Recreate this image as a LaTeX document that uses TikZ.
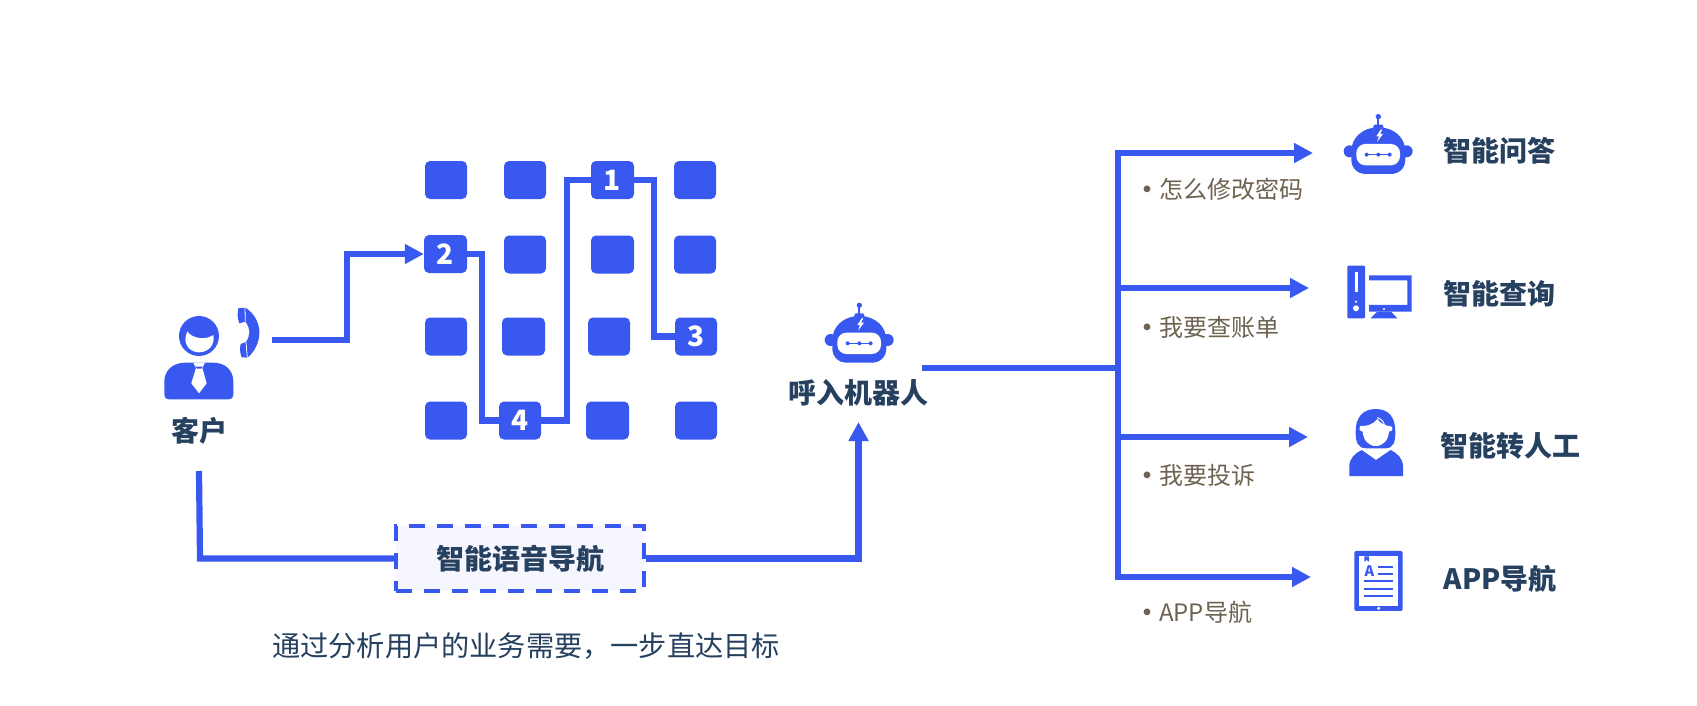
\documentclass[tikz,border=0pt]{standalone}
\usepackage{fontspec}
\setmainfont{Noto Sans CJK SC}
\usetikzlibrary{arrows.meta}

\definecolor{flowblue}{HTML}{3858EF}
\definecolor{navy}{HTML}{26405F}
\definecolor{taupe}{HTML}{6E6250}
\definecolor{boxtint}{HTML}{F5F6FE}

\tikzset{
  keypad/.style={fill=flowblue,rounded corners=5pt,minimum width=42pt,minimum height=38pt,inner sep=0pt,
    text=white,font=\fontsize{28pt}{32pt}\selectfont\bfseries},
  flow/.style={draw=flowblue,line width=6.2pt},
  flowtip/.style={flow,-{Triangle[length=19pt,width=19pt]}},
  heading/.style={text=navy,inner sep=0pt,font=\fontsize{28pt}{34pt}\selectfont\bfseries},
  example/.style={text=taupe,inner sep=0pt,anchor=west,font=\fontsize{24pt}{30pt}\selectfont},
  icon/.style={fill=flowblue},
  cutout/.style={fill=white}
}

\newcommand{\robothead}{
  \fill[icon] (178,46) circle (8);
  \fill[icon] (175,50) rectangle (181,72);
  \fill[icon,rounded corners=2pt] (163,70) rectangle (193,84);
  \fill[icon] (92,150) circle (18);
  \fill[icon] (263,150) circle (18);
  \fill[icon] (178,78) .. controls (130,78) and (97,110) .. (97,150) -- (97,175)
    .. controls (97,200) and (115,218) .. (140,218) -- (216,218)
    .. controls (241,218) and (259,200) .. (259,175) -- (259,150)
    .. controls (259,110) and (226,78) .. (178,78);
  \fill[cutout,rounded corners=9pt] (112,128) rectangle (243,192);
  \draw[flowblue,line width=1.5pt] (143,160) -- (212,160);
  \fill[icon] (143,160) circle (6);
  \fill[icon] (178,160) circle (6);
  \fill[icon] (212,160) circle (6);
  \fill[cutout] (185,85) -- (172,105) -- (180,105) -- (174,122) -- (192,98) -- (183,98) -- (190,85) -- cycle;
}

\begin{document}
\begin{tikzpicture}[x=1pt,y=-1pt]
  \useasboundingbox[fill=white] (0,0) rectangle (1697,705);

  % keypad
  \node[keypad] (k11) at (446,180) {};
  \node[keypad] (k12) at (525,180) {};
  \node[keypad,minimum width=43pt] (k13) at (612.5,180) {1};
  \node[keypad] (k14) at (695,180) {};
  \node[keypad,minimum width=43pt] (k21) at (445.5,254) {2};
  \node[keypad] (k22) at (525,254.5) {};
  \node[keypad,minimum width=43pt] (k23) at (612.5,254.5) {};
  \node[keypad] (k24) at (695,254.5) {};
  \node[keypad] (k31) at (446,336.5) {};
  \node[keypad,minimum width=43pt] (k32) at (523.5,336.5) {};
  \node[keypad] (k33) at (609,336.5) {};
  \node[keypad] (k34) at (696,336.5) {3};
  \node[keypad] (k41) at (446,420.5) {};
  \node[keypad] (k42) at (520,420.5) {4};
  \node[keypad,minimum width=43pt] (k43) at (607.5,420.5) {};
  \node[keypad] (k44) at (696,420.5) {};

  \coordinate (jog1) at (482,300);
  \coordinate (jog2) at (567,300);
  \coordinate (jog3) at (654,300);
  \draw[flow] (k21.east) -| (jog1) |- (k42.west);
  \draw[flow] (k42.east) -| (jog2) |- (k13.west);
  \draw[flow] (k13.east) -| (jog3) |- (k34.west);

  % customer
  \begin{scope}[shift={(130,270)},scale=.3333]
    \fill[icon] (207,198) circle (60);
    \fill[cutout] (172,184) .. controls (185,205) and (225,212) .. (250,195)
      .. controls (256,225) and (235,247) .. (207,247)
      .. controls (178,247) and (155,220) .. (172,184);
    \fill[icon] (103,372) -- (103,335) .. controls (103,300) and (130,278) .. (165,278) -- (250,278)
      .. controls (285,278) and (310,300) .. (310,335) -- (310,372)
      .. controls (310,382) and (305,388) .. (295,388) -- (118,388)
      .. controls (108,388) and (103,382) .. (103,372);
    \fill[cutout] (190,278) -- (225,278) -- (217,294) -- (230,340) -- (207,370) -- (184,340) -- (198,294) -- cycle;
    \fill[icon] (196,290) -- (218,290) -- (214,296) -- (201,296) -- cycle;
    % handset
    \fill[icon] (346,113) .. controls (375,130) and (390,165) .. (388,190)
      .. controls (388,220) and (370,250) .. (352,263) -- (335,262)
      .. controls (330,250) and (329,235) .. (332,222) -- (348,216)
      .. controls (362,195) and (362,175) .. (346,155) -- (328,160)
      .. controls (322,145) and (322,130) .. (325,115) -- cycle;
    \draw[white,line width=.8pt] (345,113) -- (346,155);
    \draw[white,line width=.8pt] (348,216) -- (352,263);
  \end{scope}
  \node[heading] (customer) at (199,431) {客户};
  \coordinate (callout) at (272,340);
  \coordinate (calljog) at (347,300);
  \draw[flowtip] (callout) -| (calljog) |- (k21.west);

  % voice navigation
  \node[heading,draw=flowblue,fill=boxtint,line width=4.5pt,dash pattern=on 16pt off 12pt,
    minimum width=248pt,minimum height=65pt] (navbox) at (520,558.5) {\textcolor{navy}{智能语音导航}};
  \node[text=navy,inner sep=0pt,font=\fontsize{28.2pt}{34pt}\selectfont] (navnote) at (526,646) {通过分析用户的业务需要，一步直达目标};
  \coordinate (custout) at (199,471);
  \coordinate (custbend) at (200,558.5);
  \coordinate (robotin) at (858.5,422);
  \draw[flow] (custout) -- (custbend) -- (navbox.west);
  \draw[flowtip] (navbox.east) -| (robotin);

  % inbound robot
  \begin{scope}[shift={(800,290)},scale=.3333]
    \robothead
  \end{scope}
  \node[heading] (inbound) at (858,393) {呼入机器人};

  % branches
  \coordinate (robotout) at (922,368);
  \coordinate (hub) at (1118,368);
  \coordinate (tip1) at (1313,153);
  \coordinate (tip2) at (1309,288);
  \coordinate (tip3) at (1308,437);
  \coordinate (tip4) at (1311,577);
  \draw[flow] (robotout) -- (hub);
  \draw[flowtip] (hub) |- (tip1);
  \draw[flowtip] (hub) |- (tip2);
  \draw[flowtip] (hub) |- (tip3);
  \draw[flowtip] (hub) |- (tip4);

  \node[example] (ex1) at (1135,189) {{\bfseries •}怎么修改密码};
  \node[example] (ex2) at (1135,327) {{\bfseries •}我要查账单};
  \node[example] (ex3) at (1135,475) {{\bfseries •}我要投诉};
  \node[example] (ex4) at (1135,612) {{\bfseries •}APP导航};

  % answer robot
  \begin{scope}[shift={(1319,101.3)},scale=.3333]
    \robothead
  \end{scope}
  \node[heading] (answer) at (1499,151) {智能问答};

  % computer
  \begin{scope}[shift={(1320,100)},scale=.3333]
    \fill[icon,rounded corners=1pt] (82,497) rectangle (135,655);
    \fill[cutout] (105,515) rectangle (113,575);
    \fill[cutout] (108,605) circle (3.5);
    \fill[cutout] (108,625) circle (9);
    \fill[icon] (147,526) -- (275,526) -- (275,635) -- (147,635) -- (147,615) -- (262,615) -- (262,541) -- (147,541) -- cycle;
    \fill[cutout] (192,627) circle (3.5);
    \fill[icon] (172,635) -- (213,635) -- (232,655) -- (152,655) -- cycle;
  \end{scope}
  \node[heading] (query) at (1499,294) {智能查询};

  % agent
  \begin{scope}[shift={(1320,395)},scale=.3333]
    \fill[icon] (107,110) .. controls (107,65) and (130,42) .. (167,42)
      .. controls (205,42) and (226,65) .. (226,110)
      .. controls (226,140) and (222,160) .. (195,160) -- (140,160)
      .. controls (112,160) and (107,140) .. (107,110);
    \fill[cutout] (120,93) .. controls (140,95) and (160,88) .. (172,72)
      .. controls (180,85) and (195,92) .. (216,95)
      .. controls (220,100) and (218,108) .. (207,110)
      .. controls (205,135) and (190,153) .. (167,153)
      .. controls (145,153) and (130,135) .. (128,110)
      .. controls (118,108) and (115,98) .. (120,93);
    \draw[white,line width=1pt] (172,68) .. controls (185,72) and (192,82) .. (194,92);
    \fill[icon] (88,243) -- (88,215) .. controls (88,190) and (105,175) .. (125,165)
      -- (168,195) -- (212,165) .. controls (232,175) and (249,190) .. (249,215) -- (249,243) -- cycle;
  \end{scope}
  \node[heading] (agent) at (1510,446) {智能转人工};

  % app guide
  \begin{scope}[shift={(1320,395)},scale=.3333]
    \fill[icon,rounded corners=2pt] (103,468) rectangle (248,648);
    \fill[cutout] (118,484) rectangle (234,632);
    \fill[cutout] (176,640) circle (5);
    \fill[icon] (133,484) -- (147,484) -- (147,500) -- (140,495) -- (133,500) -- cycle;
    \draw[flowblue,line width=1.7pt] (175,515) -- (218,515);
    \draw[flowblue,line width=1.7pt] (175,537) -- (218,537);
    \draw[flowblue,line width=1.7pt] (133,559) -- (218,559);
    \draw[flowblue,line width=1.7pt] (133,581) -- (218,581);
    \draw[flowblue,line width=1.7pt] (133,604) -- (218,604);
  \end{scope}
  \node[text=flowblue,inner sep=0pt,font=\fontsize{14.5pt}{18pt}\selectfont\bfseries] (docletter) at (1369.3,571) {A};
  \node[heading] (appguide) at (1500,579) {APP导航};
\end{tikzpicture}
\end{document}
